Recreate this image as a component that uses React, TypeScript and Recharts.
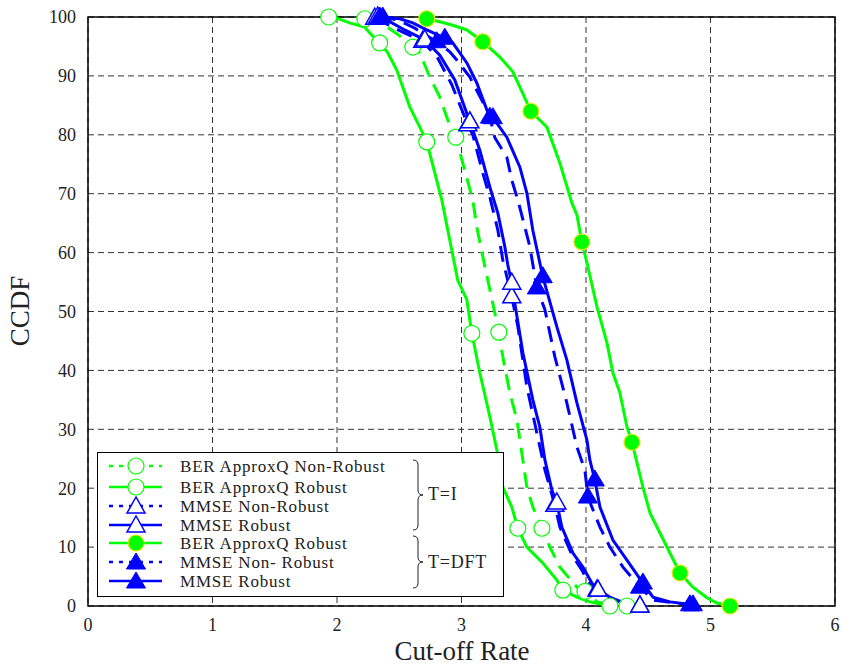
import React from 'react';
import { LineChart, Line, XAxis, YAxis, CartesianGrid, ReferenceArea } from 'recharts';

const xTicks = [0, 1, 2, 3, 4, 5, 6];
const yTicks = [0, 10, 20, 30, 40, 50, 60, 70, 80, 90, 100];

const GREEN = '#00ff00';
const BLUE = '#0000ff';
const FONT = '"Liberation Serif", "DejaVu Serif", serif';

// [cut-off rate, CCDF %]
const berNonRobustI: number[][] = [
  [2.223, 99.7], [2.384, 98.6], [2.504, 96.8], [2.609, 94.9], [2.665, 93.9], [2.745, 89.8],
  [2.826, 86.4], [2.89, 82.5], [2.954, 79.6], [3.091, 68.9], [3.123, 64.3], [3.188, 57.6],
  [3.228, 53.7], [3.268, 49.7], [3.3, 46.5], [3.332, 42.3], [3.388, 36.2], [3.445, 31.6],
  [3.469, 28.2], [3.525, 20.2], [3.573, 16.8], [3.646, 13.2], [3.71, 10.0], [3.79, 6.6],
  [3.83, 5.6], [3.927, 3.2], [3.991, 2.5], [4.088, 0.7], [4.192, 0.2], [4.329, 0],
];
const berNonRobustIMarks = [0, 3, 8, 14, 21, 26, 29];

const berRobustI: number[][] = [
  [1.933, 100], [1.997, 99.8], [2.102, 99.0], [2.222, 98.3], [2.263, 97.3], [2.343, 95.6],
  [2.408, 93.9], [2.48, 91.0], [2.585, 84.7], [2.665, 81.3], [2.721, 78.8], [2.842, 68.9],
  [2.906, 62.1], [2.97, 55.3], [3.043, 52.0], [3.083, 46.3], [3.147, 39.6], [3.228, 32.1],
  [3.284, 26.5], [3.332, 20.2], [3.404, 16.8], [3.452, 13.2], [3.525, 10.0], [3.653, 7.3],
  [3.766, 4.4], [3.814, 2.7], [3.927, 1.5], [4.031, 0.7], [4.192, 0],
];
const berRobustIMarks = [0, 5, 10, 15, 21, 25, 28];

const mmseNonRobustI: number[][] = [
  [2.303, 99.8], [2.4, 98.8], [2.52, 97.5], [2.689, 95.9], [2.81, 93.0], [2.922, 88.5],
  [3.051, 81.7], [3.091, 80.0], [3.171, 73.5], [3.228, 69.4], [3.292, 63.8], [3.332, 58.7],
  [3.404, 52.5], [3.453, 47.4], [3.525, 37.2], [3.605, 29.4], [3.67, 23.1], [3.75, 17.1],
  [3.79, 13.4], [3.887, 8.7], [3.967, 6.1], [4.031, 3.6], [4.088, 2.7], [4.192, 1.4],
  [4.313, 0.5], [4.433, 0],
];
const mmseNonRobustIMarks = [0, 3, 6, 12, 17, 22, 25];

const mmseRobustI: number[][] = [
  [2.327, 100], [2.424, 99.2], [2.544, 97.8], [2.705, 96.1], [2.826, 93.5], [2.946, 89.3],
  [3.067, 82.2], [3.147, 77.4], [3.228, 71.1], [3.292, 66.7], [3.348, 61.0], [3.372, 57.9],
  [3.404, 54.8], [3.428, 51.4], [3.493, 43.0], [3.573, 35.0], [3.629, 30.4], [3.67, 24.8],
  [3.726, 19.7], [3.766, 17.5], [3.806, 13.4], [3.895, 9.0], [3.975, 6.6], [4.047, 3.9],
  [4.096, 2.7], [4.192, 1.5], [4.273, 0.7], [4.433, 0],
];
const mmseRobustIMarks = [0, 3, 6, 12, 19, 24, 27];

const berRobustDft: number[][] = [
  [2.721, 99.7], [2.826, 99.2], [2.93, 98.6], [3.043, 97.8], [3.171, 95.8], [3.308, 93.2],
  [3.412, 90.7], [3.469, 88.1], [3.557, 84.0], [3.686, 81.3], [3.79, 75.2], [3.887, 68.4],
  [3.927, 66.4], [3.967, 61.8], [4.015, 57.6], [4.088, 50.8], [4.168, 44.7], [4.216, 39.6],
  [4.272, 36.2], [4.329, 30.4], [4.369, 27.8], [4.457, 20.2], [4.514, 15.8], [4.594, 12.4],
  [4.674, 9.0], [4.755, 5.6], [4.859, 3.2], [4.972, 1.4], [5.052, 0.5], [5.157, 0],
];
const berRobustDftMarks = [0, 4, 8, 13, 20, 25, 29];

const mmseNonRobustDft: number[][] = [
  [2.343, 100], [2.488, 99.5], [2.625, 98.1], [2.801, 95.8], [2.906, 94.1], [2.962, 92.7],
  [3.067, 89.8], [3.163, 85.9], [3.228, 83.0], [3.268, 79.5], [3.364, 76.2], [3.404, 72.3],
  [3.453, 68.9], [3.509, 64.3], [3.549, 61.0], [3.605, 54.0], [3.67, 50.3], [3.75, 42.3],
  [3.846, 34.5], [3.927, 27.0], [3.991, 23.1], [4.015, 18.5], [4.112, 13.4], [4.192, 10.0],
  [4.297, 6.6], [4.433, 3.2], [4.538, 1.0], [4.835, 0.2],
];
const mmseNonRobustDftMarks = [0, 3, 8, 15, 21, 25, 27];

const mmseRobustDft: number[][] = [
  [2.367, 100], [2.504, 99.7], [2.609, 99.0], [2.721, 97.8], [2.866, 96.4], [2.93, 95.6],
  [3.043, 92.2], [3.123, 88.8], [3.204, 84.2], [3.252, 82.9], [3.364, 79.6], [3.469, 74.5],
  [3.525, 70.1], [3.573, 63.8], [3.653, 55.9], [3.766, 47.4], [3.846, 41.8], [3.927, 34.5],
  [4.007, 28.2], [4.031, 24.8], [4.071, 21.4], [4.112, 16.8], [4.216, 11.2], [4.329, 7.8],
  [4.457, 3.9], [4.538, 1.5], [4.674, 0.7], [4.859, 0.2],
];
const mmseRobustDftMarks = [0, 4, 9, 14, 20, 24, 27];

type MarkerKind = 'openCircle' | 'filledCircle' | 'openTri' | 'filledTri';

const series = [
  { name: 'BER ApproxQ Non-Robust', pts: berNonRobustI, marks: berNonRobustIMarks, color: GREEN, dashed: true, marker: 'openCircle' as MarkerKind },
  { name: 'BER ApproxQ Robust', pts: berRobustI, marks: berRobustIMarks, color: GREEN, dashed: false, marker: 'openCircle' as MarkerKind },
  { name: 'MMSE  Non-Robust', pts: mmseNonRobustI, marks: mmseNonRobustIMarks, color: BLUE, dashed: true, marker: 'openTri' as MarkerKind },
  { name: 'MMSE  Robust', pts: mmseRobustI, marks: mmseRobustIMarks, color: BLUE, dashed: false, marker: 'openTri' as MarkerKind },
  { name: 'BER ApproxQ Robust', pts: berRobustDft, marks: berRobustDftMarks, color: GREEN, dashed: false, marker: 'filledCircle' as MarkerKind },
  { name: 'MMSE Non- Robust', pts: mmseNonRobustDft, marks: mmseNonRobustDftMarks, color: BLUE, dashed: true, marker: 'filledTri' as MarkerKind },
  { name: 'MMSE Robust', pts: mmseRobustDft, marks: mmseRobustDftMarks, color: BLUE, dashed: false, marker: 'filledTri' as MarkerKind },
];

const drawMarker = (kind: MarkerKind, cx: number, cy: number, key?: string | number) => {
  switch (kind) {
    case 'openCircle':
      return <circle key={key} cx={cx} cy={cy} r={8} fill="#fff" stroke={GREEN} strokeWidth={1.2} />;
    case 'filledCircle':
      return <circle key={key} cx={cx} cy={cy} r={8} fill={GREEN} stroke="#f5e600" strokeWidth={1.2} />;
    case 'openTri':
      return <polygon key={key} points={`${cx},${cy - 10} ${cx - 9},${cy + 6} ${cx + 9},${cy + 6}`} fill="#fff" stroke={BLUE} strokeWidth={1.5} />;
    default:
      return <polygon key={key} points={`${cx},${cy - 10} ${cx - 9.5},${cy + 6} ${cx + 9.5},${cy + 6}`} fill={BLUE} stroke={BLUE} strokeWidth={1} />;
  }
};

const brace = (x: number, y0: number, y1: number, w: number) => {
  const mid = (y0 + y1) / 2;
  const h = w / 2;
  const r = 5;
  return `M${x},${y0} Q${x + h},${y0} ${x + h},${y0 + r} L${x + h},${mid - r} Q${x + h},${mid} ${x + w},${mid} ` +
    `Q${x + h},${mid} ${x + h},${mid + r} L${x + h},${y1 - r} Q${x + h},${y1} ${x},${y1}`;
};

const LegendBox = () => {
  const rows = [14, 35, 54, 73, 91, 110, 129];
  return (
    <svg width={408} height={146} style={{ position: 'absolute', left: 97, top: 452 }}>
      <rect x={0.5} y={0.5} width={406} height={144} fill="#fff" stroke="#000" strokeWidth={1} />
      {series.map((s, i) => (
        <g key={s.name + i}>
          <line x1={12} x2={65} y1={rows[i]} y2={rows[i]} stroke={s.color} strokeWidth={2.5}
            strokeDasharray={s.dashed ? '4 6' : undefined} />
          {drawMarker(s.marker, 39, rows[i] + (s.marker.includes('Tri') ? 1 : 0))}
          <text x={83} y={rows[i]} dominantBaseline="central" fontFamily={FONT} fontSize={17}
            letterSpacing={0.8} fill="#222">{s.name}</text>
        </g>
      ))}
      <path d={brace(316, 8, 78, 10)} fill="none" stroke="#222" strokeWidth={1} />
      <path d={brace(316, 84, 136, 10)} fill="none" stroke="#222" strokeWidth={1} />
      <text x={331} y={42} dominantBaseline="central" fontFamily={FONT} fontSize={18} letterSpacing={0.8} fill="#222">T=I</text>
      <text x={331} y={110} dominantBaseline="central" fontFamily={FONT} fontSize={18} letterSpacing={0.8} fill="#222">T=DFT</text>
    </svg>
  );
};

export default function App() {
  return (
    <div style={{ position: 'absolute', left: 0, top: 0, width: 842, height: 671, background: '#fff' }}>
      <LineChart width={842} height={671} margin={{ top: 17, right: 7, bottom: 0, left: 0 }}>
        <CartesianGrid stroke="#333" strokeDasharray="6 4" strokeWidth={1} />
        <XAxis type="number" dataKey="x" domain={[0, 6]} ticks={xTicks} height={65}
          axisLine={false} tickLine={false} tickMargin={6}
          tick={{ fontFamily: FONT, fontSize: 18, fill: '#222' }} />
        <YAxis type="number" domain={[0, 100]} ticks={yTicks} width={88}
          axisLine={false} tickLine={false} tickMargin={6}
          tick={{ fontFamily: FONT, fontSize: 18, fill: '#222' }} />
        <ReferenceArea x1={0} x2={6} y1={0} y2={100} fill="none" stroke="#000" strokeWidth={1.5} />
        {series.map((s, i) => (
          <Line
            key={i}
            data={s.pts.map(([x, y]) => ({ x, y }))}
            dataKey="y"
            type="linear"
            stroke={s.color}
            strokeWidth={3}
            strokeDasharray={s.dashed ? '16 9' : undefined}
            isAnimationActive={false}
            dot={(p: any) => (s.marks.includes(p.index)
              ? drawMarker(s.marker, p.cx, p.cy, `${i}-${p.index}`)
              : <g key={`${i}-${p.index}`} />)}
            activeDot={false}
          />
        ))}
      </LineChart>
      <LegendBox />
      <div style={{ position: 'absolute', left: 312, width: 300, top: 636, textAlign: 'center', fontFamily: FONT, fontSize: 27, color: '#222' }}>
        Cut-off Rate
      </div>
      <div style={{ position: 'absolute', left: 20, top: 311, transform: 'translate(-50%, -50%) rotate(-90deg)', fontFamily: FONT, fontSize: 27, color: '#222', whiteSpace: 'nowrap' }}>
        CCDF
      </div>
    </div>
  );
}
